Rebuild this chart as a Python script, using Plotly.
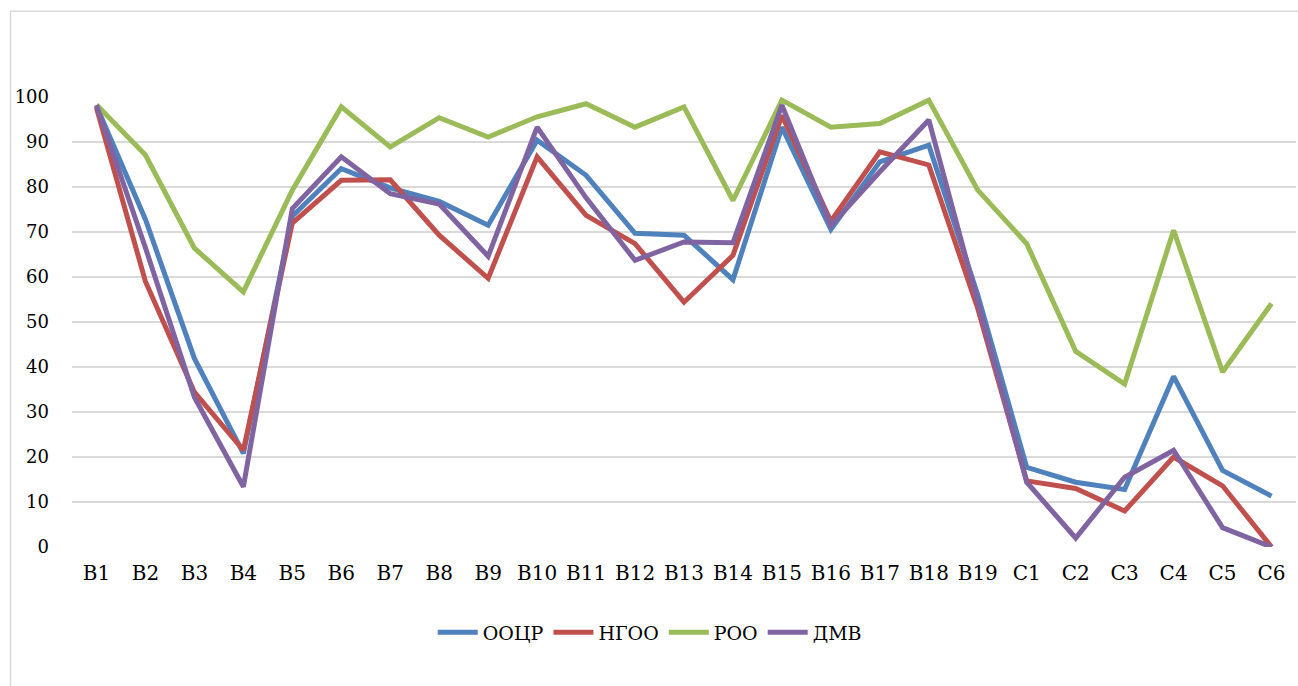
import plotly.graph_objects as go

# Item labels along the x axis
categories = ["В1", "В2", "В3", "В4", "В5", "В6", "В7", "В8", "В9", "В10",
              "В11", "В12", "В13", "В14", "В15", "В16", "В17", "В18", "В19",
              "С1", "С2", "С3", "С4", "С5", "С6"]

# Percent of correct answers per group
ooцр = [98.0, 72.8, 41.9, 20.8, 73.5, 84.1, 79.8, 76.8, 71.5, 90.4,
        82.6, 69.7, 69.3, 59.4, 93.3, 70.6, 85.6, 89.3, 56.0,
        17.7, 14.4, 12.8, 37.9, 17.0, 11.3]
нгоо = [97.6, 59.0, 34.4, 21.5, 72.0, 81.5, 81.6, 69.3, 59.7, 86.7,
        73.7, 67.4, 54.4, 64.8, 95.9, 72.4, 87.8, 84.9, 53.0,
        14.7, 13.0, 8.0, 20.0, 13.6, 0.0]
роо = [98.3, 87.1, 66.4, 56.7, 79.3, 97.8, 88.9, 95.4, 91.1, 95.6,
       98.5, 93.3, 97.8, 77.0, 99.3, 93.3, 94.1, 99.3, 79.3,
       67.4, 43.5, 36.2, 70.4, 38.9, 54.1]
дмв = [98.2, 66.5, 33.3, 13.4, 75.2, 86.7, 78.5, 76.2, 64.6, 93.3,
       77.6, 63.7, 67.8, 67.6, 98.2, 71.4, 83.4, 94.9, 54.5,
       14.4, 2.0, 15.5, 21.5, 4.3, 0.0]

series = [
    ("ООЦР", ooцр, "#4F81BD"),
    ("НГОО", нгоо, "#C0504D"),
    ("РОО", роо, "#9BBB59"),
    ("ДМВ", дмв, "#8064A2"),
]

y_ticks = [0, 10, 20, 30, 40, 50, 60, 70, 80, 90, 100]

FONT = "DejaVu Serif"

fig = go.Figure()
for name, values, color in series:
    fig.add_trace(go.Scatter(
        x=categories, y=values, mode="lines", name=name,
        line=dict(color=color, width=5),
        cliponaxis=False,
    ))

W, H = 1298, 686
left, right, top, bottom = 71.5, 1296.0, 96.7, 546.7

fig.update_layout(
    width=W, height=H,
    margin=dict(l=left, r=W - right, t=top, b=H - bottom, pad=0),
    paper_bgcolor="white", plot_bgcolor="white",
    font=dict(family=FONT, size=19, color="#000000"),
    showlegend=True,
    legend=dict(
        orientation="h", x=0.472, xanchor="center",
        y=(bottom - 632) / (bottom - top), yanchor="middle",
        font=dict(family=FONT, size=19, color="#000000"),
        itemwidth=40, tracegroupgap=0,
    ),
    xaxis=dict(
        type="category", range=[-0.5, len(categories) - 0.5],
        showgrid=False, zeroline=False, showline=False, ticks="",
        tickfont=dict(family=FONT, size=20, color="#000000"),
        ticklabelstandoff=12,
    ),
    yaxis=dict(
        range=[0, 100], tickvals=y_ticks, showgrid=True,
        gridcolor="#D9D9D9", gridwidth=1.5, zeroline=False, showline=False,
        ticks="", tickfont=dict(family=FONT, size=18, color="#000000"),
        ticklabelstandoff=22,
    ),
)

# Chart area outline
px_w = right - left
px_h = bottom - top
fig.add_shape(
    type="rect", xref="paper", yref="paper",
    x0=(10 - left) / px_w, x1=(1320 - left) / px_w,
    y0=(bottom - 720) / px_h, y1=(bottom - 11) / px_h,
    line=dict(color="#D9D9D9", width=1.5), fillcolor="rgba(0,0,0,0)",
    layer="below",
)

fig.write_html("out.html")
